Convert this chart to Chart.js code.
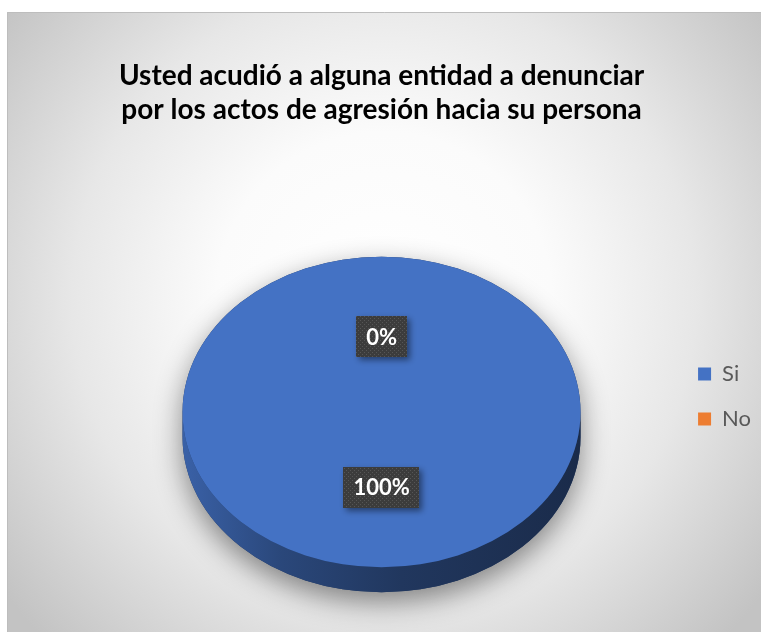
<!DOCTYPE html>
<html>
<head>
<meta charset="utf-8">
<style>
html, body { margin: 0; padding: 0; background: #ffffff; }
#wrap { position: relative; width: 761px; height: 632px; }
canvas { display: block; }
</style>
<script src="https://cdn.jsdelivr.net/npm/chart.js@4"></script>
</head>
<body>
<div id="wrap"><canvas id="c" width="761" height="632"></canvas></div>
<script>
// ---- data ----
const titleLines = ['Usted acudió a alguna entidad a denunciar', 'por los actos de agresión hacia su persona'];
const categories = ['Si', 'No'];
const values = [100, 0];
const sliceColors = ['#4472C4', '#ED7D31'];

// ---- helpers ----
function shade(hex, f) {
  const n = parseInt(hex.slice(1), 16);
  const r = Math.round(((n >> 16) & 255) * f), g = Math.round(((n >> 8) & 255) * f), b = Math.round((n & 255) * f);
  return `rgb(${r},${g},${b})`;
}
function frontRanges(s, e) {
  const out = [];
  for (let k = -2; k <= 2; k++) {
    const a = Math.max(s, k * 2 * Math.PI), b = Math.min(e, k * 2 * Math.PI + Math.PI);
    if (b > a) out.push([a, b]);
  }
  return out;
}

const backgroundPlugin = {
  id: 'bgPanel',
  beforeDraw(chart, args, o) {
    const ctx = chart.ctx, W = chart.width, H = chart.height;
    ctx.save();
    ctx.fillStyle = '#ffffff';
    ctx.fillRect(0, 0, W, H);
    const g = ctx.createRadialGradient(o.cx, o.cy, 0, o.cx, o.cy, o.r);
    g.addColorStop(0, '#ffffff');
    g.addColorStop(0.35, '#fbfbfb');
    g.addColorStop(0.65, '#e7e7e7');
    g.addColorStop(1, '#c3c3c3');
    ctx.fillStyle = g;
    ctx.fillRect(o.left, o.top, W - o.left, H - o.top);
    ctx.strokeStyle = '#bdbdbd';
    ctx.lineWidth = 1;
    ctx.beginPath();
    ctx.moveTo(o.left + 0.5, H);
    ctx.lineTo(o.left + 0.5, o.top + 0.5);
    ctx.lineTo(W, o.top + 0.5);
    ctx.stroke();
    ctx.restore();
  }
};

const pie3dPlugin = {
  id: 'pie3d',
  beforeDatasetsDraw(chart, args, o) {
    const meta = chart.getDatasetMeta(0);
    const arcs = meta.data;
    if (!arcs.length) return;
    const cx = arcs[0].x, cy = arcs[0].y, rx = arcs[0].outerRadius;
    const ry = rx * o.tilt, D = o.depth;
    const ctx = chart.ctx;
    const colors = chart.data.datasets[0].backgroundColor;
    // silhouette with soft shadow
    ctx.save();
    ctx.beginPath();
    ctx.ellipse(cx, cy, rx, ry, 0, Math.PI, 2 * Math.PI);
    ctx.ellipse(cx, cy + D, rx, ry, 0, 0, Math.PI);
    ctx.closePath();
    ctx.shadowColor = o.shadowColor;
    ctx.shadowBlur = o.shadowBlur;
    ctx.shadowOffsetY = o.shadowOffsetY;
    ctx.fillStyle = shade(colors[0], 0.5);
    ctx.fill();
    ctx.restore();
    // side walls
    ctx.save();
    arcs.forEach((arc, i) => {
      if (!(arc.circumference > 0)) return;
      const base = colors[i];
      const grad = ctx.createLinearGradient(cx - rx, 0, cx + rx, 0);
      grad.addColorStop(0, shade(base, 0.85));
      grad.addColorStop(0.25, shade(base, 0.62));
      grad.addColorStop(0.55, shade(base, 0.48));
      grad.addColorStop(1, shade(base, 0.38));
      frontRanges(arc.startAngle, arc.endAngle).forEach(([a, b]) => {
        ctx.beginPath();
        ctx.ellipse(cx, cy + D, rx, ry, 0, a, b);
        ctx.ellipse(cx, cy, rx, ry, 0, b, a, true);
        ctx.closePath();
        ctx.fillStyle = grad;
        ctx.fill();
      });
    });
    ctx.restore();
    // squash top face
    ctx.save();
    ctx.translate(cx, cy);
    ctx.scale(1, o.tilt);
    ctx.translate(-cx, -cy);
  },
  afterDatasetsDraw(chart, args, o) {
    const meta = chart.getDatasetMeta(0);
    const arcs = meta.data;
    if (!arcs.length) return;
    const ctx = chart.ctx;
    ctx.restore();
    const cy = arcs[0].y;
    const data = chart.data.datasets[0].data;
    const total = data.reduce((s, v) => s + v, 0);
    // dotted pattern for label boxes
    const pc = document.createElement('canvas');
    pc.width = 4; pc.height = 4;
    const p = pc.getContext('2d');
    p.fillStyle = '#3c3c3c'; p.fillRect(0, 0, 4, 4);
    p.fillStyle = '#565656'; p.fillRect(0, 0, 1, 1); p.fillRect(2, 2, 1, 1);
    const pattern = ctx.createPattern(pc, 'repeat');
    ctx.save();
    ctx.font = 'bold 22px Lato';
    ctx.textAlign = 'center';
    ctx.textBaseline = 'middle';
    arcs.forEach((arc, i) => {
      const pt = arc.getCenterPoint();
      const x = pt.x, y = cy + (pt.y - cy) * o.tilt * o.labelFactor;
      const txt = Math.round(data[i] / total * 100) + '%';
      const w = ctx.measureText(txt).width + 20, h = 41;
      ctx.save();
      ctx.shadowColor = 'rgba(0,0,0,0.45)';
      ctx.shadowBlur = 6;
      ctx.shadowOffsetX = 3;
      ctx.shadowOffsetY = 3;
      ctx.fillStyle = pattern;
      ctx.fillRect(Math.round(x - w / 2), Math.round(y - h / 2), Math.round(w), h);
      ctx.restore();
      ctx.fillStyle = '#ffffff';
      ctx.fillText(txt, x, y + 1);
    });
    ctx.restore();
  }
};

function draw() {
  new Chart(document.getElementById('c'), {
    type: 'pie',
    data: {
      labels: categories,
      datasets: [{
        data: values,
        backgroundColor: sliceColors,
        borderWidth: 0,
        radius: 199,
        clip: false
      }]
    },
    options: {
      responsive: false,
      animation: false,
      events: [],
      layout: { padding: { left: 88, right: 0, top: 0, bottom: 0 } },
      plugins: {
        bgPanel: { cx: 384, cy: 300, r: 480, left: 7, top: 12 },
        pie3d: { tilt: 0.78, depth: 25, labelFactor: 0.97, shadowColor: 'rgba(0,0,0,0.45)', shadowBlur: 28, shadowOffsetY: 10 },
        title: {
          display: true,
          fullSize: false,
          text: titleLines,
          color: '#000000',
          font: { family: 'Lato', size: 28, weight: 'bold', lineHeight: '34px' },
          padding: { top: 59, bottom: 65 }
        },
        legend: {
          position: 'right',
          align: 'center',
          title: { display: true, text: '', font: { size: 10, lineHeight: '10px' }, padding: { top: 151, bottom: 0 } },
          labels: {
            boxWidth: 13,
            boxHeight: 13,
            padding: 23,
            color: '#595959',
            font: { family: 'Lato', size: 22 }
          }
        },
        tooltip: { enabled: false }
      }
    },
    plugins: [backgroundPlugin, pie3dPlugin]
  });
}

Promise.all([
  document.fonts.load('bold 28px Lato'),
  document.fonts.load('22px Lato')
]).then(draw, draw);
</script>
</body>
</html>
